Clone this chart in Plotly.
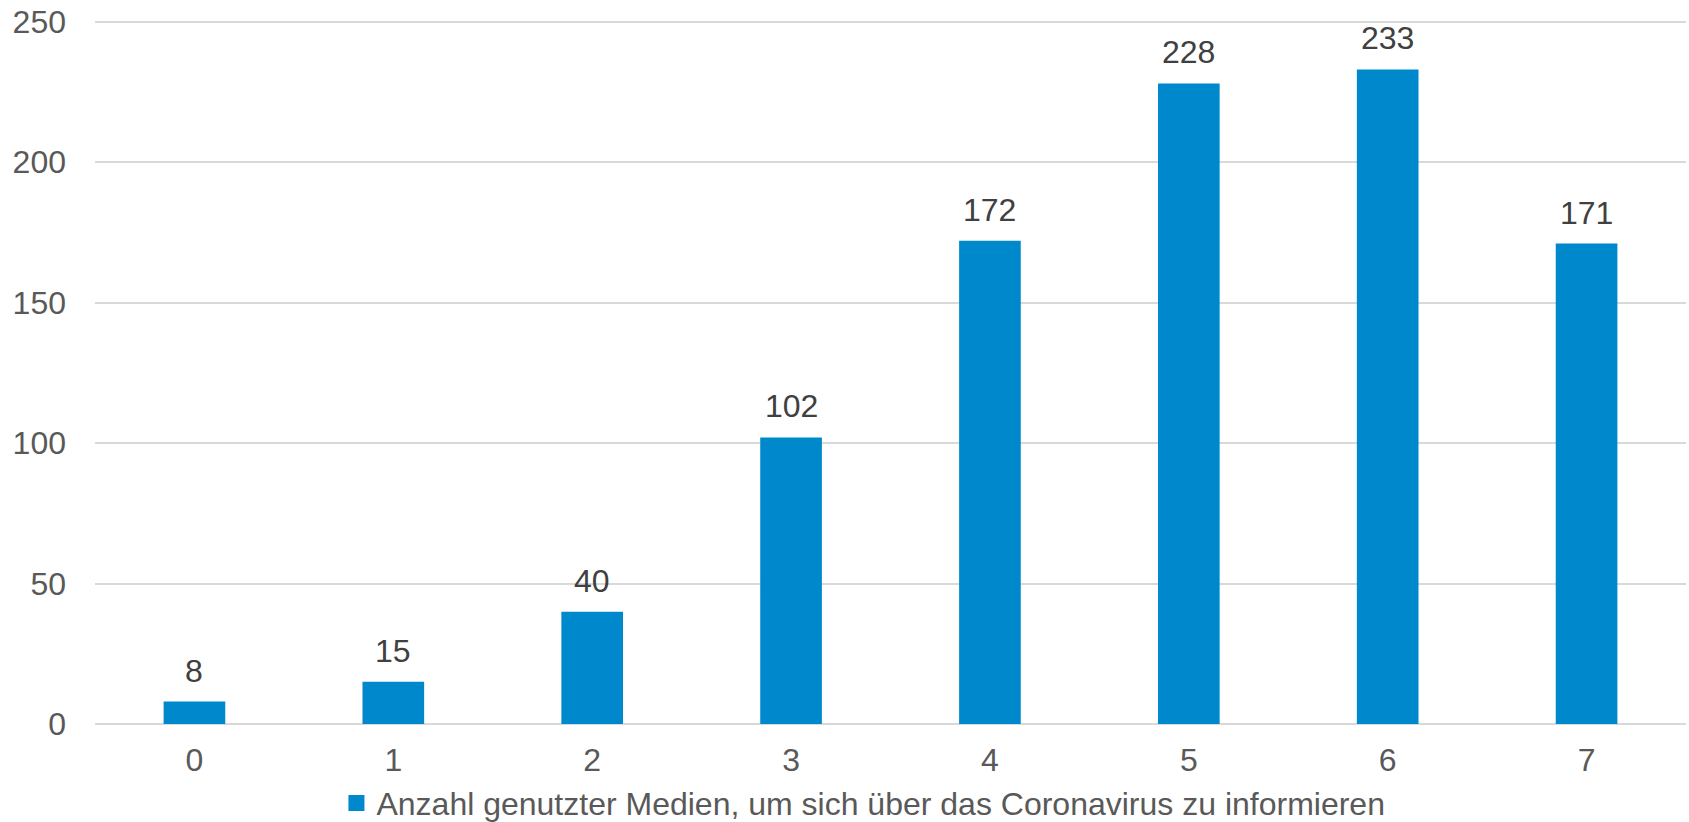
import plotly.graph_objects as go

categories = ["0", "1", "2", "3", "4", "5", "6", "7"]
values = [8, 15, 40, 102, 172, 228, 233, 171]
series_name = "Anzahl genutzter Medien, um sich über das Coronavirus zu informieren"
y_ticks = [0, 50, 100, 150, 200, 250]

FONT = "Liberation Sans, Arial, sans-serif"
BAR = "#0088CC"

fig = go.Figure()
fig.add_trace(go.Bar(
    x=categories, y=values, name=series_name,
    marker=dict(color=BAR, line=dict(width=0)),
    showlegend=False,
))
# legend entry with a larger square swatch
fig.add_trace(go.Scatter(
    x=[None], y=[None], mode="markers", name=series_name,
    marker=dict(symbol="square", size=16, color=BAR, line=dict(width=0)),
    showlegend=True, hoverinfo="skip",
))

for c, v in zip(categories, values):
    fig.add_annotation(x=c, y=v, text=str(v), showarrow=False,
                       yanchor="bottom", yshift=11,
                       font=dict(family=FONT, size=32, color="#404040"))

fig.update_layout(
    width=1689, height=822,
    margin=dict(l=95, r=3, t=20, b=98, autoexpand=False),
    paper_bgcolor="white", plot_bgcolor="white",
    bargap=0.69,
    font=dict(family=FONT, size=32, color="#595959"),
    legend=dict(orientation="h", x=0.483, xanchor="center",
                yref="container", y=0.023, yanchor="middle",
                font=dict(family=FONT, size=32, color="#595959"),
                itemwidth=30, tracegroupgap=0),
    xaxis=dict(type="category", showgrid=False, showline=False, ticks="",
               automargin=False, ticklabelstandoff=14,
               tickfont=dict(family=FONT, size=32, color="#595959")),
    yaxis=dict(range=[0, 250.6], tickvals=y_ticks, showgrid=True, gridcolor="#D9D9D9",
               gridwidth=1.5, zeroline=True, zerolinecolor="#D9D9D9", zerolinewidth=1.5,
               ticks="", ticklabelstandoff=28, automargin=False,
               ticklabeloverflow="allow",
               tickfont=dict(family=FONT, size=32, color="#595959")),
)

fig.write_html("out.html", config={"displayModeBar": False},
               post_script="document.body.style.margin='0';document.body.style.overflow='hidden';")
